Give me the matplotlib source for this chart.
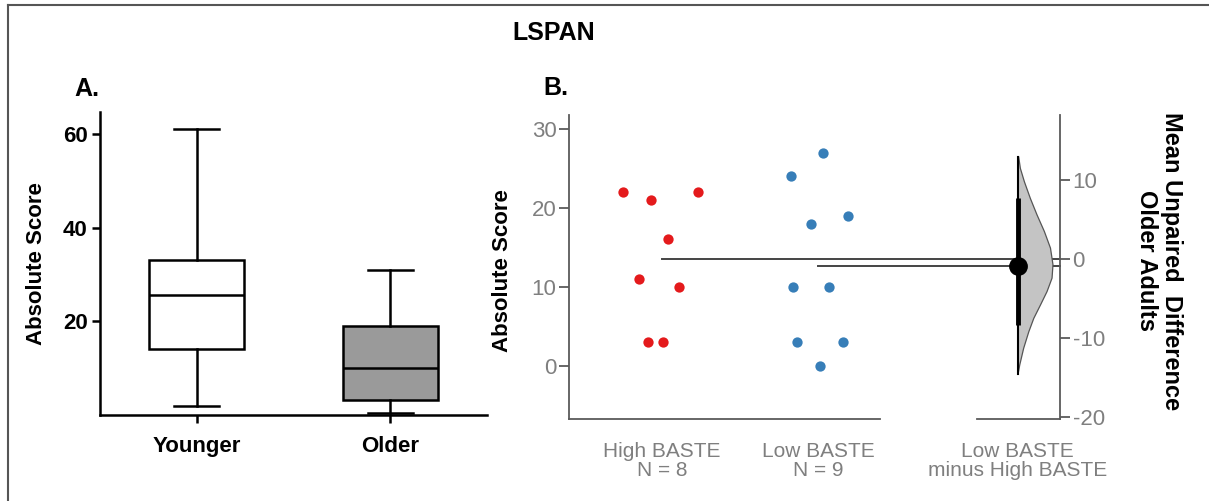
import numpy as np
import matplotlib
matplotlib.use("Agg")
import matplotlib.pyplot as plt
from matplotlib.lines import Line2D

plt.rcParams['font.family'] = ['Liberation Sans', 'DejaVu Sans']
plt.rcParams['axes.unicode_minus'] = False

W, H = 1209, 501

# ---- panel A: box plot summaries
groups_a = ["Younger", "Older"]
whis_lo = [2.0, 0.4]
q1 = [14.1, 3.1]
med = [25.6, 10.1]
q3 = [33.0, 18.9]
whis_hi = [61.0, 31.0]
box_fill = ["white", "#9a9a9a"]

# ---- panel B: individual scores
high_baste = [22, 21, 16, 11, 10, 22, 3, 3]
low_baste = [24, 27, 18, 19, 10, 10, 3, 3, 0]
# horizontal jitter
high_jit = [-0.252, -0.071, 0.038, -0.147, 0.109, 0.231, -0.090, 0.006]
low_jit = [-0.173, 0.034, -0.047, 0.194, -0.162, 0.071, -0.133, 0.162, 0.013]
b_labels = ["High BASTE\nN = 8", "Low BASTE\nN = 9", "Low BASTE\nminus High BASTE"]

# bootstrap distribution outline of mean difference (y, half width)
dist_y = [13.0, 11.5, 9.8, 7.7, 5.6, 3.5, 1.4, -0.7, -2.4, -4.1, -5.8, -7.5, -9.2, -11.3, -13.4, -14.6]
dist_w = [0.006, 0.017, 0.043, 0.081, 0.124, 0.171, 0.210, 0.226, 0.220, 0.188, 0.146, 0.103, 0.071, 0.038, 0.013, 0.002]
ci = [7.7, -8.3]


def rect(x0, y0, x1, y1):
    return [x0 / W, 1 - y1 / H, (x1 - x0) / W, (y1 - y0) / H]


fig = plt.figure(figsize=(W / 100, H / 100), dpi=100)

# frame lines of the original image
fig.add_artist(Line2D([8 / W, 8 / W], [0, 1 - 5 / H], color="#555555", lw=1.5))
fig.add_artist(Line2D([8 / W, 1], [1 - 5 / H, 1 - 5 / H], color="#555555", lw=1.5))

fig.text(554 / W, 1 - 33 / H, "LSPAN", fontsize=18, fontweight="bold", ha="center", va="center")
fig.text(87 / W, 1 - 89 / H, "A.", fontsize=18, fontweight="bold", ha="center", va="center")
fig.text(556 / W, 1 - 88 / H, "B.", fontsize=18, fontweight="bold", ha="center", va="center")

# ================= panel A
axA = fig.add_axes(rect(100, 112, 487, 415))
stats = []
for i in range(len(groups_a)):
    stats.append(dict(med=med[i], q1=q1[i], q3=q3[i], whislo=whis_lo[i], whishi=whis_hi[i], fliers=[]))
bp = axA.bxp(stats, positions=[1, 2], widths=0.49, patch_artist=True, showfliers=False,
             boxprops=dict(lw=1.8, color="black"), medianprops=dict(lw=1.8, color="black"),
             whiskerprops=dict(lw=1.8, color="black"), capprops=dict(lw=1.8, color="black"),
             capwidths=0.234)
for patch, c in zip(bp["boxes"], box_fill):
    patch.set_facecolor(c)
axA.set_xlim(0.5, 2.5)
axA.set_ylim(0, 64.7)
axA.set_yticks([20, 40, 60])
axA.set_xticks([1, 2])
axA.set_xticklabels(groups_a)
for s in ["top", "right"]:
    axA.spines[s].set_visible(False)
for s in ["left", "bottom"]:
    axA.spines[s].set_linewidth(1.8)
axA.tick_params(width=1.8, length=6, labelsize=16, pad=3)
axA.tick_params(axis="x", pad=9)
for t in axA.get_xticklabels() + axA.get_yticklabels():
    t.set_fontweight("bold")
axA.set_ylabel("Absolute Score", fontsize=16, fontweight="bold")
axA.yaxis.set_label_coords(-0.137, 0.5)

# ================= panel B
gray = "#5a5a5a"
tgray = "#7f7f7f"
axB = fig.add_axes(rect(569, 115, 1060, 419.3))
x_eff = 2.28
axB.set_xlim(-0.596, 2.551)
ylo, yhi = -6.79, 31.77
axB.set_ylim(ylo, yhi)

m_high = np.mean(high_baste)
m_low = np.mean(low_baste)
diff = m_low - m_high

axB.scatter(np.array(high_jit), high_baste, s=55, color="#e41a1c", zorder=3, linewidths=0)
axB.scatter(1 + np.array(low_jit), low_baste, s=55, color="#377eb8", zorder=3, linewidths=0)

axB.plot([0, 2.551], [m_high, m_high], color="#444444", lw=1.4, clip_on=False, zorder=2)
axB.plot([1, 2.551], [m_low, m_low], color="#444444", lw=1.4, clip_on=False, zorder=2)

# half violin for the difference
vy = np.array(dist_y) + m_high
vx = x_eff + np.array(dist_w)
poly_x = np.concatenate([vx, [x_eff, x_eff]])
poly_y = np.concatenate([vy, [vy[-1], vy[0]]])
axB.fill(poly_x, poly_y, facecolor="#c4c4c4", edgecolor="#555555", lw=0.9, zorder=3)
axB.plot([x_eff, x_eff], [vy[0], vy[-1]], color="black", lw=1.5, zorder=4)
axB.plot([x_eff, x_eff], np.array(ci) + m_high, color="black", lw=3.5, zorder=4, solid_capstyle="butt")
axB.plot([x_eff], [m_high + diff], "o", color="black", ms=12.5, zorder=5)

axB.set_yticks([0, 10, 20, 30])
axB.set_xticks([0, 1, x_eff])
axB.set_xticklabels(b_labels, linespacing=1.0)
axB.tick_params(axis="x", length=0, pad=16, labelsize=15, labelcolor=tgray)
axB.tick_params(axis="y", length=7, width=1.3, color=gray, labelsize=16, labelcolor=tgray, pad=2)
for s in ["top", "right"]:
    axB.spines[s].set_visible(False)
axB.spines["left"].set_color(gray)
axB.spines["left"].set_linewidth(1.3)
axB.spines["bottom"].set_color(gray)
axB.spines["bottom"].set_linewidth(1.3)
axB.spines["bottom"].set_bounds(-0.596, 1.397)
axB.plot([2.019, 2.551], [ylo, ylo], color=gray, lw=1.3, clip_on=False)
axB.set_ylabel("Absolute Score", fontsize=16, fontweight="bold")
axB.yaxis.set_label_coords(-0.114, 0.49)

axR = axB.twinx()
axR.set_ylim(ylo - m_high, yhi - m_high)
axR.set_yticks([-20, -10, 0, 10])
for s in ["top", "left", "bottom"]:
    axR.spines[s].set_visible(False)
axR.spines["right"].set_color(gray)
axR.spines["right"].set_linewidth(1.3)
axR.tick_params(axis="y", length=7, width=1.3, color=gray, labelsize=16, labelcolor=tgray, pad=2)

fig.text(1159 / W, 1 - 261 / H, "Mean Unpaired  Difference\nOlder Adults", rotation=-90,
         fontsize=17, fontweight="bold", ha="center", va="center", multialignment="center",
         linespacing=1.1)

fig.savefig("out.png", dpi=100)
